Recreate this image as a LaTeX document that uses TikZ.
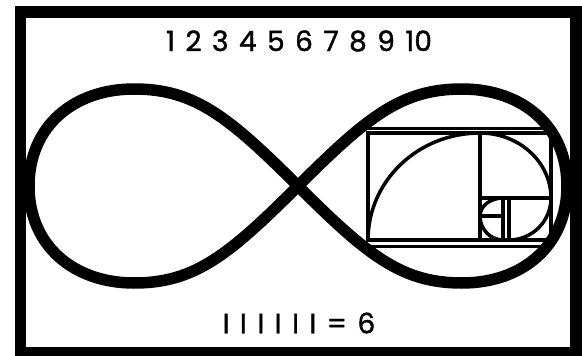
\documentclass[tikz,border=0pt]{standalone}
\usepackage{fontspec}
\setmainfont{Poppins}
\newfontfamily\lblfont{Poppins}[FakeBold=1.3, WordSpace=1.4]
\usetikzlibrary{calc}
\begin{document}
\begin{tikzpicture}[x=1pt,y=-1pt,
  frame/.style={line width=11.5pt},
  loopline/.style={line width=11.5pt, line join=round},
  chord/.style={line width=3pt},
  gridline/.style={line width=4pt},
  spiral/.style={line width=3.5pt},
  lbl/.style={inner sep=0pt, font=\lblfont\fontsize{28}{32}\selectfont}]
\useasboundingbox (0,0) rectangle (582,356);
% frame
\draw[frame] (20.5,12) rectangle (576.2,352.8);
% figure-eight key points
\coordinate (C) at (298,186);
\coordinate (TR) at (462,89);
\coordinate (R) at (567,186);
\coordinate (BR) at (462,283);
\coordinate (TL) at (134,89);
\coordinate (L) at (29,186);
\coordinate (BL) at (134,283);
% chords inside right loop
\begin{scope}
\clip (C) .. controls (368,116) and (402,89) .. (TR)
  .. controls (522,89) and (567,126) .. (R)
  .. controls (567,246) and (522,283) .. (BR)
  .. controls (402,283) and (368,256) .. (C) -- cycle;
\coordinate (ch1a) at (300,128); \coordinate (ch1b) at (580,128);
\coordinate (ch2a) at (300,246); \coordinate (ch2b) at (580,246);
\draw[chord] (ch1a) -- (ch1b);
\draw[chord] (ch2a) -- (ch2b);
\end{scope}
% golden rectangle subdivision
\draw[gridline] (368,133) rectangle (551,240);
\draw[gridline] (480,133) -- (480,240);
\draw[gridline] (480,198) -- (551,198);
\draw[gridline] (509,198) -- (509,240);
\draw[gridline] (503,198) -- (503,240);
\draw[gridline] (480,216) -- (503,216);
% spiral
\draw[spiral] (368,240) arc[start angle=180, end angle=270, x radius=112, y radius=107]
  arc[start angle=270, end angle=360, x radius=71, y radius=65]
  arc[start angle=0, end angle=90, x radius=42, y radius=42];
\draw[spiral] (503,240) arc[start angle=90, end angle=180, x radius=23, y radius=24]
  arc[start angle=180, end angle=270, x radius=23, y radius=18];
% figure eight
\draw[loopline] (C) .. controls (368,116) and (402,89) .. (TR)
  .. controls (522,89) and (567,126) .. (R)
  .. controls (567,246) and (522,283) .. (BR)
  .. controls (402,283) and (368,256) .. (C)
  .. controls (228,116) and (194,89) .. (TL)
  .. controls (74,89) and (29,126) .. (L)
  .. controls (29,246) and (74,283) .. (BL)
  .. controls (194,283) and (228,256) .. (C) -- cycle;
% texts
\node[lbl] (numbers) at (299,41) {1 2 3 4 5 6 7 8 9 10};
\node[lbl] (tally) at (299,323) {I I I I I I = 6};
\end{tikzpicture}
\end{document}
